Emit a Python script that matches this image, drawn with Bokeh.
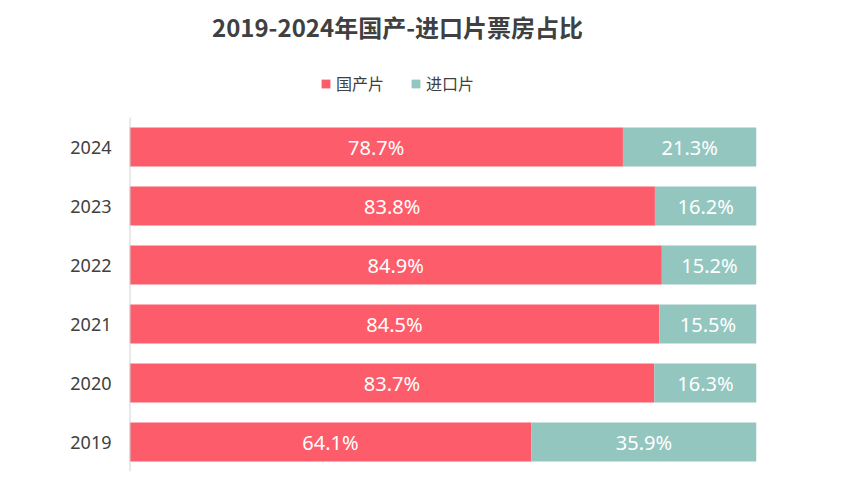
from bokeh.plotting import figure
from bokeh.models import ColumnDataSource, Range1d, FixedTicker, Label, Legend, LegendItem
from bokeh.core.properties import value
from bokeh.embed import file_html
from bokeh.resources import INLINE

years = ["2019", "2020", "2021", "2022", "2023", "2024"]
domestic = [64.1, 83.7, 84.5, 84.9, 83.8, 78.7]
imported = [35.9, 16.3, 15.5, 15.2, 16.2, 21.3]
series_names = ["国产片", "进口片"]
title_text = "2019-2024年国产-进口片票房占比"

RED = "#fd5d6b"
TEAL = "#94c6c0"

n = len(years)
pos = list(range(n))

src = ColumnDataSource(dict(
    pos=pos,
    dom_end=domestic,
    imp_start=domestic,
    imp_end=[d + i for d, i in zip(domestic, imported)],
    dom_mid=[d / 2 for d in domestic],
    imp_mid=[d + i / 2 for d, i in zip(domestic, imported)],
    dom_lbl=[f"{d:.1f}%" for d in domestic],
    imp_lbl=[f"{i:.1f}%" for i in imported],
))

# extra room above the bars (in category units) for title and legend
top_room = 117 / 59

p = figure(width=842, height=500, output_backend="svg", toolbar_location=None,
           y_range=Range1d(-0.5, n - 0.5 + top_room),
           x_range=Range1d(0, 100), x_axis_location=None,
           min_border_left=129, min_border_right=86, min_border_top=0, min_border_bottom=29)
p.title = None
p.outline_line_color = None
p.grid.visible = False

r1 = p.hbar(y="pos", left=0, right="dom_end", height=0.66, source=src, fill_color=RED, line_color=None)
r2 = p.hbar(y="pos", left="imp_start", right="imp_end", height=0.66, source=src, fill_color=TEAL, line_color=None)

p.text(x="dom_mid", y="pos", text="dom_lbl", source=src, text_align="center", text_baseline="middle",
       text_color="white", text_font=value("Noto Sans"), text_font_size="20px")
p.text(x="imp_mid", y="pos", text="imp_lbl", source=src, text_align="center", text_baseline="middle",
       text_color="white", text_font=value("Noto Sans"), text_font_size="20px")

# axis line only along the bar area
p.segment(x0=[0], x1=[0], y0=[-0.5], y1=[n - 0.5], line_color="#d3d3d3", line_width=2)

ax = p.yaxis[0]
ax.ticker = FixedTicker(ticks=pos)
ax.major_label_overrides = {i: y for i, y in zip(pos, years)}
ax.major_tick_line_color = None
ax.minor_tick_line_color = None
ax.major_tick_out = 0
ax.axis_line_color = None
ax.major_label_text_font = "Noto Sans"
ax.major_label_text_font_size = "18px"
ax.major_label_text_color = "#404040"
ax.major_label_standoff = 18

title = Label(x=268, y=445, x_units="screen", y_units="screen", text=title_text,
              text_align="center", text_baseline="middle", text_font="Noto Sans CJK SC",
              text_font_style="bold", text_font_size="24px", text_color="#404040")
p.add_layout(title)

legend = Legend(items=[LegendItem(label=series_names[0], renderers=[r1]),
                       LegendItem(label=series_names[1], renderers=[r2])],
                location=(191, 376), orientation="horizontal",
                glyph_width=11, glyph_height=11, label_height=20,
                label_text_font="Noto Sans CJK SC", label_text_font_size="16px",
                label_text_color="#404040", label_standoff=5, spacing=26,
                padding=0, margin=0, border_line_color=None, background_fill_alpha=0)
p.add_layout(legend)

open("out.html", "w").write(file_html(p, INLINE))
